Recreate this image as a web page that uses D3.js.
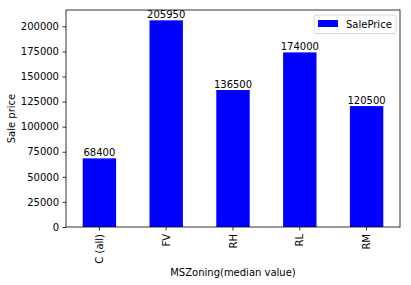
<!DOCTYPE html>
<html>
<head>
<meta charset="utf-8">
<script src="https://cdn.jsdelivr.net/npm/d3@7"></script>
<style>
  body { margin: 0; background: #fff; }
  text { font-family: "DejaVu Sans", sans-serif; }
</style>
</head>
<body>
<svg id="drawing_region"></svg>
<script>
const categories = ["C (all)", "FV", "RH", "RL", "RM"];
const sale_price = [68400, 205950, 136500, 174000, 120500];
const y_ticks = [0, 25000, 50000, 75000, 100000, 125000, 150000, 175000, 200000];

const config = {
  width: 411,
  height: 285,
  margin: {top: 10, right: 11, bottom: 58, left: 66}
};

const svg = d3.select('#drawing_region')
    .attr('width', config.width)
    .attr('height', config.height);
const chart = svg.append('g')
    .attr('transform', `translate(${config.margin.left}, ${config.margin.top})`);
const inner_width = config.width - config.margin.left - config.margin.right;
const inner_height = config.height - config.margin.top - config.margin.bottom;

// matplotlib-like: band per category, bar width 0.5
const xscale = d3.scaleBand()
    .domain(categories)
    .range([0, inner_width])
    .paddingInner(0.5)
    .paddingOuter(0.25);

const yscale = d3.scaleLinear()
    .domain([0, d3.max(sale_price) * 1.05])
    .range([inner_height, 0]);

chart.selectAll('rect.bar')
    .data(sale_price)
    .join('rect')
    .attr('class', 'bar')
    .attr('x', (d, i) => xscale(categories[i]))
    .attr('y', d => yscale(d))
    .attr('width', xscale.bandwidth())
    .attr('height', d => inner_height - yscale(d))
    .attr('fill', '#0000ff');

chart.selectAll('text.value')
    .data(sale_price)
    .join('text')
    .attr('class', 'value')
    .attr('x', (d, i) => xscale(categories[i]) + xscale.bandwidth() / 2)
    .attr('y', d => yscale(d) - 2)
    .attr('text-anchor', 'middle')
    .attr('font-size', 10)
    .attr('fill', '#000')
    .text(d => d);

// axes
const yaxis = d3.axisLeft(yscale)
    .tickValues(y_ticks)
    .tickSize(3.5)
    .tickPadding(3.5)
    .tickFormat(d => d);
const yaxis_group = chart.append('g').call(yaxis);

const xaxis = d3.axisBottom(xscale)
    .tickSize(3.5)
    .tickPadding(3.5);
const xaxis_group = chart.append('g')
    .attr('transform', `translate(0, ${inner_height})`)
    .call(xaxis);
xaxis_group.selectAll('text')
    .attr('transform', 'rotate(-90)')
    .attr('text-anchor', 'end')
    .attr('x', -7)
    .attr('y', 0)
    .attr('dy', '0.35em');

[yaxis_group, xaxis_group].forEach(g => {
  g.select('.domain').remove();
  g.selectAll('text').attr('font-size', 10).attr('font-family', '"DejaVu Sans", sans-serif').attr('fill', '#000');
  g.selectAll('line').attr('stroke', '#000').attr('stroke-width', 0.8);
});

// frame
chart.append('rect')
    .attr('x', 0).attr('y', 0)
    .attr('width', inner_width).attr('height', inner_height)
    .attr('fill', 'none')
    .attr('stroke', '#000')
    .attr('stroke-width', 0.8);

// axis labels
svg.append('text')
    .attr('x', config.margin.left + inner_width / 2)
    .attr('y', 276)
    .attr('text-anchor', 'middle')
    .attr('font-size', 10)
    .text('MSZoning(median value)');

svg.append('text')
    .attr('transform', `translate(15, ${config.margin.top + inner_height / 2}) rotate(-90)`)
    .attr('text-anchor', 'middle')
    .attr('font-size', 10)
    .text('Sale price');

// legend
const legend = svg.append('g')
    .attr('transform', `translate(${config.margin.left + inner_width - 86}, ${config.margin.top + 5})`);
legend.append('rect')
    .attr('width', 82).attr('height', 18.5)
    .attr('rx', 2)
    .attr('fill', '#fff')
    .attr('fill-opacity', 0.8)
    .attr('stroke', '#ccc')
    .attr('stroke-width', 0.8);
legend.append('rect')
    .attr('x', 4).attr('y', 5)
    .attr('width', 20).attr('height', 7)
    .attr('fill', '#0000ff');
legend.append('text')
    .attr('x', 32).attr('y', 13)
    .attr('font-size', 10)
    .text('SalePrice');
</script>
</body>
</html>
